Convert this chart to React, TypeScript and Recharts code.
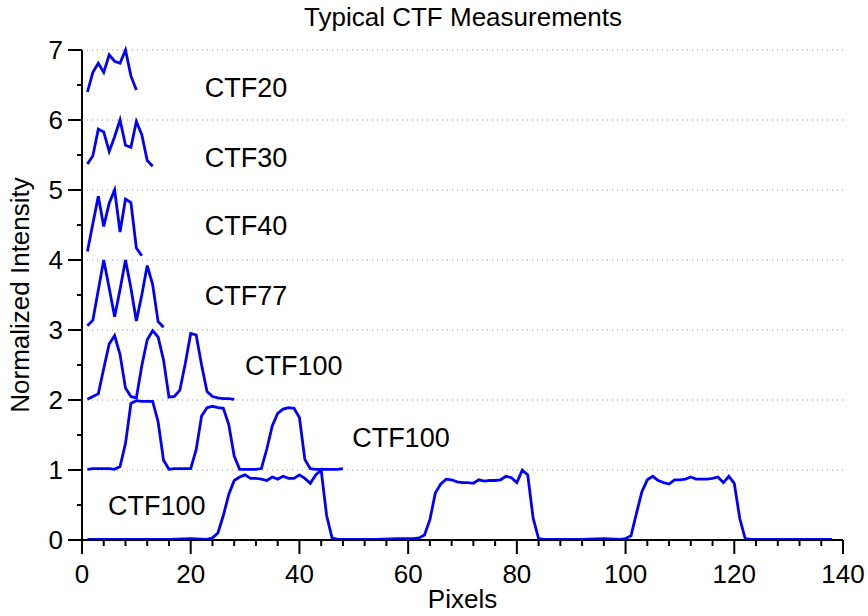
import React from 'react';
import {
	LineChart,
	Line,
	XAxis,
	YAxis,
	ReferenceLine,
	ReferenceDot,
	Label,
} from 'recharts';

// y values per pixel, starting at pixel 1
const ctf20 = [6.4, 6.68, 6.81, 6.68, 6.93, 6.84, 6.81, 7.0, 6.63, 6.43];
const ctf30 = [5.37, 5.49, 5.87, 5.83, 5.55, 5.76, 6.0, 5.64, 5.61, 5.98, 5.79, 5.42, 5.34];
const ctf40 = [4.12, 4.52, 4.91, 4.48, 4.81, 5.0, 4.4, 4.87, 4.82, 4.17, 4.06];
const ctf77 = [3.06, 3.14, 3.57, 4.0, 3.6, 3.19, 3.58, 4.0, 3.6, 3.13, 3.5, 3.92, 3.65, 3.12, 3.04];
const ctf100a = [
	2.01, 2.05, 2.09, 2.45, 2.8, 2.92, 2.65, 2.17, 2.05, 2.03, 2.49, 2.86, 2.99, 2.9,
	2.57, 2.04, 2.05, 2.14, 2.52, 2.95, 2.93, 2.5, 2.12, 2.05, 2.03, 2.02, 2.02, 2.01,
];
const ctf100b = [
	1.01, 1.02, 1.02, 1.02, 1.02, 1.01, 1.05, 1.38, 1.95, 1.99, 1.98, 1.98, 1.98, 1.69,
	1.14, 1.01, 1.02, 1.02, 1.02, 1.02, 1.29, 1.77, 1.89, 1.91, 1.89, 1.88, 1.65, 1.2,
	1.01, 1.01, 1.01, 1.01, 1.02, 1.3, 1.63, 1.81, 1.87, 1.89, 1.88, 1.75, 1.15, 1.02,
	1.01, 1.01, 1.01, 1.01, 1.01, 1.02,
];

// bottom trace has its own pixel positions
const ctf100cX = [
	1, 4, 8, 12, 16, 20, 23, 24, 25, 26, 27, 28, 29, 30, 31, 32, 33, 34, 35, 36, 37, 38,
	39, 40, 41, 42, 43, 44, 45, 46, 47, 50, 54, 58, 61, 62, 63, 64, 65, 66, 67, 68, 69,
	70, 71, 72, 73, 74, 75, 76, 77, 78, 79, 80, 81, 82, 83, 84, 85, 88, 92, 96, 99, 100,
	101, 102, 103, 104, 105, 106, 107, 108, 109, 110, 111, 112, 113, 114, 115, 116, 117,
	118, 119, 120, 121, 122, 123, 126, 130, 134, 138,
];
const ctf100cY = [
	0.01, 0.01, 0.01, 0.01, 0.01, 0.02, 0.01, 0.03, 0.1, 0.35, 0.65, 0.85, 0.9, 0.93,
	0.88, 0.88, 0.87, 0.85, 0.9, 0.87, 0.91, 0.88, 0.88, 0.93, 0.88, 0.81, 0.93, 1.0,
	0.35, 0.03, 0.01, 0.01, 0.01, 0.02, 0.02, 0.03, 0.07, 0.29, 0.67, 0.8, 0.87, 0.86,
	0.83, 0.82, 0.82, 0.81, 0.86, 0.84, 0.85, 0.85, 0.86, 0.91, 0.89, 0.82, 1.0, 0.93,
	0.31, 0.02, 0.01, 0.01, 0.01, 0.02, 0.01, 0.02, 0.06, 0.38, 0.69, 0.86, 0.91, 0.85,
	0.82, 0.8, 0.86, 0.86, 0.87, 0.9, 0.87, 0.87, 0.87, 0.88, 0.9, 0.82, 0.91, 0.81,
	0.31, 0.02, 0.01, 0.01, 0.01, 0.01, 0.01,
];

const seriesNames = ['CTF20', 'CTF30', 'CTF40', 'CTF77', 'CTF100', 'CTF100', 'CTF100'];

// where each trace's name is written (data coords of the text's left edge)
const labelAnchors = [
	{ x: 22.6, y: 6.47 },
	{ x: 22.6, y: 5.47 },
	{ x: 22.6, y: 4.49 },
	{ x: 22.6, y: 3.49 },
	{ x: 30.0, y: 2.49 },
	{ x: 49.7, y: 1.47 },
	{ x: 4.8, y: 0.5 },
];

const xTicks = Array.from({ length: 36 }, (_, i) => i * 4);
const yTicks = Array.from({ length: 15 }, (_, i) => i * 0.5);
const gridLevels = [1, 2, 3, 4, 5, 6, 7];

const FONT = 'Liberation Sans, Arial, Helvetica, sans-serif';
const BLUE = '#0000ff';

const fromPixel1 = (ys: number[]) => ys.map((y, i) => ({ x: i + 1, y }));

const traces = [
	fromPixel1(ctf20),
	fromPixel1(ctf30),
	fromPixel1(ctf40),
	fromPixel1(ctf77),
	fromPixel1(ctf100a),
	fromPixel1(ctf100b),
	ctf100cX.map((x, i) => ({ x, y: ctf100cY[i] })),
];

const XTick = (props: any) => {
	const { x, y, payload } = props;
	const major = payload.value % 20 === 0;
	return (
		<g>
			<line x1={x} y1={y} x2={x} y2={y + (major ? 14 : 6)} stroke='#000' strokeWidth={2} />
			{major && (
				<text x={x} y={y + 43} textAnchor='middle' fontSize={26} fontFamily={FONT} fill='#000'>
					{payload.value}
				</text>
			)}
		</g>
	);
};

const YTick = (props: any) => {
	const { x, y, payload } = props;
	const major = Number.isInteger(payload.value);
	return (
		<g>
			<line x1={x} y1={y} x2={x - (major ? 14 : 5)} y2={y} stroke='#000' strokeWidth={2} />
			{major && (
				<text x={x - 19} y={y + 9} textAnchor='end' fontSize={26} fontFamily={FONT} fill='#000'>
					{payload.value}
				</text>
			)}
		</g>
	);
};

const App = () => {
	return (
		<div style={{ position: 'absolute', left: 0, top: 0, width: 868, height: 616, background: '#fff' }}>
			<div
				style={{
					position: 'absolute',
					left: 0,
					top: 2,
					width: 926,
					textAlign: 'center',
					fontFamily: FONT,
					fontSize: 26,
					color: '#000',
				}}
			>
				Typical CTF Measurements
			</div>
			<LineChart width={868} height={616} margin={{ top: 50, right: 25, bottom: 0, left: 0 }}>
				<XAxis
					dataKey='x'
					type='number'
					domain={[0, 140]}
					ticks={xTicks}
					interval={0}
					height={76}
					tickSize={0}
					tickMargin={0}
					tickLine={false}
					tick={<XTick />}
					axisLine={{ stroke: '#000', strokeWidth: 2 }}
				>
					<Label value='Pixels' position='insideBottom' offset={8} style={{ fontSize: 26, fontFamily: FONT, fill: '#000' }} />
				</XAxis>
				<YAxis
					type='number'
					domain={[0, 7]}
					ticks={yTicks}
					interval={0}
					width={82}
					tickSize={0}
					tickMargin={0}
					tickLine={false}
					tick={<YTick />}
					axisLine={{ stroke: '#000', strokeWidth: 2 }}
				>
					<Label
						value='Normalized Intensity'
						angle={-90}
						position='insideLeft'
						offset={20}
						style={{ textAnchor: 'middle', fontSize: 26, fontFamily: FONT, fill: '#000' }}
					/>
				</YAxis>
				{gridLevels.map((v) => (
					<ReferenceLine key={v} y={v} stroke='#999' strokeDasharray='1 4' strokeWidth={1} />
				))}
				{traces.map((d, i) => (
					<Line
						key={i}
						data={d}
						dataKey='y'
						type='linear'
						stroke={BLUE}
						strokeWidth={2.8}
						dot={false}
						isAnimationActive={false}
					/>
				))}
				{labelAnchors.map((a, i) => (
					<ReferenceDot
						key={'l' + i}
						x={a.x}
						y={a.y}
						r={0}
						stroke='none'
						fill='none'
						label={{ value: seriesNames[i], position: 'right', offset: 0, fontSize: 27, fontFamily: FONT, fill: '#000' }}
					/>
				))}
			</LineChart>
		</div>
	);
};

export default App;
